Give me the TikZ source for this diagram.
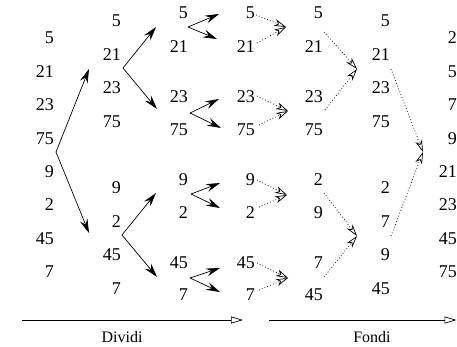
\documentclass[tikz,border=0pt]{standalone}
\usepackage{fontspec}
\setmainfont{Liberation Serif}
\usetikzlibrary{arrows.meta}
\begin{document}
\begin{tikzpicture}[x=1pt,y=-1pt,
 num/.style={anchor=east,inner sep=0pt,font=\fontsize{18}{18}\selectfont},
 lab/.style={inner sep=0pt,font=\fontsize{16}{16}\selectfont},
 div/.style={-{Stealth[length=14pt,width=8pt,inset=5pt]},line width=0.7pt},
 mrg/.style={-{Stealth[open,length=12pt,width=7pt,inset=3.5pt]},line width=0.7pt,dash pattern=on 0.8pt off 2.2pt},
 axisline/.style={-{Triangle[open,length=12pt,width=7pt]},line width=0.7pt}]
\useasboundingbox (0,0) rectangle (457,346);
% columns of numbers
\foreach \v/\y [count=\i] in {5/38,21/71.4,23/104.8,75/138.2,9/171.6,2/205,45/238.4,7/271.8}
  \node[num] (a\i) at (54,\y) {\v};
\foreach \v/\y [count=\i] in {5/21,21/54.4,23/87.8,75/121.2,9/188,2/221.4,45/254.8,7/288.2}
  \node[num] (b\i) at (121,\y) {\v};
\foreach \v/\y [count=\i] in {5/13,21/47,23/97,75/130,9/180,2/213,45/263,7/295}
  \node[num] (c\i) at (188,\y) {\v};
\foreach \v/\y [count=\i] in {5/13,21/47,23/97,75/130,9/180,2/213,45/263,7/295}
  \node[num] (d\i) at (255,\y) {\v};
\foreach \v/\y [count=\i] in {5/13,21/47,23/97,75/130,2/180,9/213,7/263,45/295}
  \node[num] (e\i) at (323,\y) {\v};
\foreach \v/\y [count=\i] in {5/21,21/54.4,23/87.8,75/121.2,2/188,7/221.4,9/254.8,45/288.2}
  \node[num] (f\i) at (390,\y) {\v};
\foreach \v/\y [count=\i] in {2/38,5/71.4,7/104.8,9/138.2,21/171.6,23/205,45/238.4,75/271.8}
  \node[num] (g\i) at (457,\y) {\v};
% divide arrows
\coordinate (v1) at (56,152);
\coordinate (t1u) at (89,69);
\coordinate (t1d) at (89,233);
\draw[div] (v1) -- (t1u);
\draw[div] (v1) -- (t1d);
\coordinate (v2) at (123,68);
\coordinate (t2u) at (156,27);
\coordinate (t2d) at (157,109);
\draw[div] (v2) -- (t2u);
\draw[div] (v2) -- (t2d);
\coordinate (v3) at (122,235);
\coordinate (t3u) at (156,193);
\coordinate (t3d) at (157,277);
\draw[div] (v3) -- (t3u);
\draw[div] (v3) -- (t3d);
% swap arrows
\foreach \vx/\vy/\ux/\uy/\dx/\dy [count=\k] in
  {188/27/219/14/217/39, 190/113/219/99/221/128, 191/194/220/183/220/208, 190/278/220/268/220/292}{
  \coordinate (s\k) at (\vx,\vy);
  \coordinate (su\k) at (\ux,\uy);
  \coordinate (sd\k) at (\dx,\dy);
  \draw[div] (s\k) -- (su\k);
  \draw[div] (s\k) -- (sd\k);
}
% merge arrows level 1
\foreach \ax/\ay/\bx/\by/\tx/\ty [count=\k] in
  {256/15/257/43/286/27, 257/96/259/125/288/111, 257/180/259/207/287/195, 257/263/259/290/288/278}{
  \coordinate (m\k a) at (\ax,\ay);
  \coordinate (m\k b) at (\bx,\by);
  \coordinate (m\k t) at (\tx,\ty);
  \draw[mrg] (m\k a) -- (m\k t);
  \draw[mrg] (m\k b) -- (m\k t);
}
% merge arrows level 2
\coordinate (n1a) at (324,32);
\coordinate (n1b) at (325,110);
\coordinate (n1t) at (357,69);
\draw[mrg] (n1a) -- (n1t);
\draw[mrg] (n1b) -- (n1t);
\coordinate (n2a) at (324,193);
\coordinate (n2b) at (324,277);
\coordinate (n2t) at (357,236);
\draw[mrg] (n2a) -- (n2t);
\draw[mrg] (n2b) -- (n2t);
% merge arrows level 3
\coordinate (p1a) at (391,69);
\coordinate (p1b) at (391,236);
\coordinate (p1t) at (423,152);
\draw[mrg] (p1a) -- (p1t);
\draw[mrg] (p1b) -- (p1t);
% axes
\coordinate (x1s) at (22,320);
\coordinate (x1e) at (243,320);
\coordinate (x2s) at (269,320);
\coordinate (x2e) at (456.5,320);
\draw[axisline] (x1s) -- (x1e);
\draw[axisline] (x2s) -- (x2e);
\node[lab] (ldiv) at (122,337) {Dividi};
\node[lab] (lfon) at (372,337) {Fondi};
\end{tikzpicture}
\end{document}
